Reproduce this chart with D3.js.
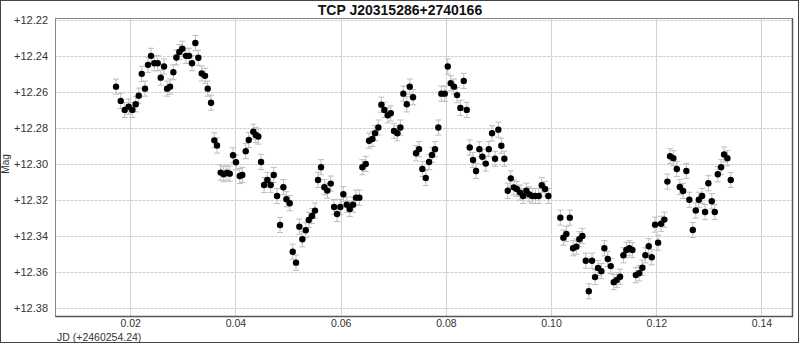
<!DOCTYPE html>
<html>
<head>
<meta charset="utf-8">
<script src="https://cdn.jsdelivr.net/npm/d3@7"></script>
<style>
  body { margin: 0; background: #fff; }
  svg { display: block; font-family: "Liberation Sans", Arial, sans-serif; }
</style>
</head>
<body>
<div id="chart"></div>
<script>
const title = "TCP J20315286+2740166";
const xLabel = "JD (+2460254.24)";
const yLabel = "Mag";
const xTicks = [0.02, 0.04, 0.06, 0.08, 0.10, 0.12, 0.14];
const yTicks = [12.22, 12.24, 12.26, 12.28, 12.30, 12.32, 12.34, 12.36, 12.38];
const magErr = 0.0042;

const jd = [
  0.0173, 0.0182, 0.01895, 0.0197, 0.0204, 0.02105, 0.02162, 0.02219, 0.02281, 0.02338,
  0.02395, 0.02458, 0.02523, 0.0258, 0.02643, 0.027, 0.02757, 0.0282, 0.02877, 0.02934,
  0.02991, 0.03061, 0.03118, 0.03175, 0.03238, 0.03295, 0.03359, 0.03422, 0.03473, 0.03536,
  0.03599, 0.0365, 0.0372, 0.03778, 0.0384, 0.03892, 0.03954, 0.04011, 0.04082, 0.04131,
  0.04196, 0.04253, 0.0434, 0.04386, 0.04435, 0.04487, 0.04544, 0.04606, 0.04671, 0.04728,
  0.04791, 0.04848, 0.04911, 0.04968, 0.05032, 0.05089, 0.05152, 0.05215, 0.05272, 0.05337,
  0.05394, 0.05456, 0.05513, 0.0557, 0.05627, 0.0569, 0.05747, 0.05812, 0.05875, 0.05932,
  0.05994, 0.06051, 0.06116, 0.06173, 0.06236, 0.06293, 0.06356, 0.06413, 0.06477, 0.0654,
  0.06603, 0.06654, 0.06717, 0.06774, 0.06831, 0.06896, 0.06953, 0.07015, 0.07078, 0.07135,
  0.07192, 0.07257, 0.07314, 0.07376, 0.07433, 0.0749, 0.07553, 0.07618, 0.0768, 0.07737,
  0.07794, 0.07857, 0.07914, 0.07979, 0.08036, 0.08093, 0.08156, 0.08213, 0.08276, 0.0834,
  0.08397, 0.08454, 0.08517, 0.08574, 0.08637, 0.08694, 0.08759, 0.08816, 0.08878, 0.08935,
  0.08998, 0.09055, 0.09112, 0.09177, 0.09234, 0.09291, 0.09348, 0.09411, 0.09468, 0.0953,
  0.09587, 0.09644, 0.09701, 0.09766, 0.09823, 0.09886, 0.09949, 0.10177, 0.10234, 0.10291,
  0.10356, 0.10418, 0.10481, 0.10538, 0.10595, 0.1066, 0.10717, 0.10779, 0.10836, 0.10893,
  0.10956, 0.11013, 0.11078, 0.11135, 0.11192, 0.11249, 0.11312, 0.11375, 0.11432, 0.11489,
  0.11546, 0.11611, 0.11673, 0.11736, 0.11793, 0.11857, 0.11914, 0.11977, 0.12034, 0.12091,
  0.12154, 0.12211, 0.12262, 0.12325, 0.1239, 0.12447, 0.1251, 0.12572, 0.12629, 0.12694,
  0.12751, 0.12808, 0.12871, 0.12928, 0.1299, 0.13055, 0.13112, 0.13169, 0.13232, 0.13289,
  0.13352, 0.13416
];

const mag = [
  12.2571, 12.2650, 12.2700, 12.2682, 12.2700, 12.2669, 12.2621, 12.2500, 12.2582, 12.2450,
  12.2400, 12.2441, 12.2441, 12.2521, 12.2459, 12.2582, 12.2571, 12.2491, 12.2409, 12.2379,
  12.2361, 12.2400, 12.2400, 12.2441, 12.2329, 12.2411, 12.2498, 12.2511, 12.2582, 12.2660,
  12.2869, 12.2898, 12.3048, 12.3057, 12.3048, 12.3054, 12.2952, 12.2991, 12.3067, 12.3061,
  12.2929, 12.2867, 12.2821, 12.2839, 12.2848, 12.2989, 12.3117, 12.3089, 12.3117, 12.3061,
  12.3178, 12.3339, 12.3129, 12.3196, 12.3218, 12.3487, 12.3548, 12.3348, 12.3418, 12.3368,
  12.3311, 12.3289, 12.3259, 12.3089, 12.3018, 12.3129, 12.3148, 12.3109, 12.3239, 12.3278,
  12.3239, 12.3168, 12.3226, 12.3250, 12.3226, 12.3187, 12.3187, 12.3018, 12.3000, 12.2871,
  12.2861, 12.2829, 12.2798, 12.2671, 12.2700, 12.2730, 12.2719, 12.2817, 12.2830, 12.2798,
  12.2610, 12.2669, 12.2571, 12.2630, 12.2941, 12.2918, 12.3028, 12.3078, 12.2989, 12.2950,
  12.2918, 12.2798, 12.2610, 12.2610, 12.2459, 12.2552, 12.2571, 12.2618, 12.2689, 12.2539,
  12.2700, 12.2909, 12.2978, 12.3039, 12.2918, 12.2960, 12.2998, 12.2918, 12.2830, 12.2971,
  12.2810, 12.2899, 12.2971, 12.3149, 12.3080, 12.3130, 12.3139, 12.3159, 12.3178, 12.3149,
  12.3169, 12.3178, 12.3178, 12.3178, 12.3118, 12.3139, 12.3178, 12.3298, 12.3409, 12.3389,
  12.3298, 12.3468, 12.3459, 12.3418, 12.3400, 12.3537, 12.3707, 12.3537, 12.3628, 12.3577,
  12.3595, 12.3468, 12.3528, 12.3567, 12.3656, 12.3644, 12.3626, 12.3507, 12.3478, 12.3468,
  12.3478, 12.3617, 12.3607, 12.3576, 12.3507, 12.3457, 12.3518, 12.3337, 12.3437, 12.3332,
  12.3309, 12.3098, 12.2957, 12.2968, 12.3028, 12.3128, 12.3150, 12.3039, 12.3199, 12.3367,
  12.3258, 12.3199, 12.3178, 12.3267, 12.3107, 12.3207, 12.3267, 12.3057, 12.3018, 12.2948,
  12.2968, 12.3089
];

const W = 799, H = 343;
const margin = {top: 18, right: 7, bottom: 27, left: 55};
const width = W - margin.left - margin.right;
const height = H - margin.top - margin.bottom;

const svg = d3.select("#chart").append("svg")
  .attr("width", W)
  .attr("height", H);

// outer frame
svg.append("rect")
  .attr("x", 0.5).attr("y", 0.5)
  .attr("width", W - 1).attr("height", H - 1)
  .attr("fill", "#fff")
  .attr("stroke", "#444");

svg.append("text")
  .attr("x", 400).attr("y", 15)
  .attr("text-anchor", "middle")
  .style("font-size", "14px")
  .style("font-weight", "bold")
  .attr("fill", "#111")
  .text(title);

const g = svg.append("g")
  .attr("transform", "translate(" + margin.left + "," + margin.top + ")");

const x = d3.scaleLinear().domain([0.0057, 0.1458]).range([0, width]);
const y = d3.scaleLinear().domain([12.219, 12.3844]).range([0, height]);

// grid
g.selectAll(".vgrid").data(xTicks).enter().append("line")
  .attr("class", "vgrid")
  .attr("x1", d => Math.round(x(d)) + 0.5).attr("x2", d => Math.round(x(d)) + 0.5)
  .attr("y1", 0).attr("y2", height)
  .attr("stroke", "#d2d2d2");

g.selectAll(".hgrid").data(yTicks).enter().append("line")
  .attr("class", "hgrid")
  .attr("x1", 0).attr("x2", width)
  .attr("y1", d => Math.round(y(d)) + 0.5).attr("y2", d => Math.round(y(d)) + 0.5)
  .attr("stroke", "#cfcfcf")
  .attr("stroke-dasharray", "3,1");

// axes (labels only)
const xAxis = g.append("g")
  .attr("transform", "translate(0," + height + ")")
  .call(d3.axisBottom(x).tickValues(xTicks).tickFormat(d3.format(".2f")).tickSize(0).tickPadding(4));
xAxis.select(".domain").remove();
xAxis.selectAll("text").style("font-size", "10.5px").attr("fill", "#333");

const yAxis = g.append("g")
  .call(d3.axisLeft(y).tickValues(yTicks).tickFormat(d => "+" + d3.format(".2f")(d)).tickSize(0).tickPadding(7));
yAxis.select(".domain").remove();
yAxis.selectAll("text").style("font-size", "11px").attr("fill", "#333");

svg.append("text")
  .attr("x", margin.left + 2).attr("y", H - 2)
  .style("font-size", "10.5px")
  .attr("fill", "#333")
  .text(xLabel);

svg.append("text")
  .attr("transform", "translate(9," + (margin.top + y(12.30)) + ") rotate(-90)")
  .attr("text-anchor", "middle")
  .style("font-size", "10px")
  .attr("fill", "#333")
  .text(yLabel);

// plot frame
g.append("rect")
  .attr("x", 0.5).attr("y", 0.5)
  .attr("width", width).attr("height", height)
  .attr("fill", "none")
  .attr("stroke", "#888");
g.append("path")
  .attr("d", "M" + (width + 0.5) + ",0.5V" + (height + 0.5) + "H0.5")
  .attr("fill", "none")
  .attr("stroke", "#555")
  .attr("stroke-width", 1.5);

const data = jd.map((d, i) => ({jd: d, mag: mag[i]}));

// error bars
const eb = g.selectAll(".err").data(data).enter().append("g")
  .attr("class", "err")
  .attr("stroke", "#bdbdbd")
  .attr("stroke-width", 1);
eb.append("line")
  .attr("x1", d => x(d.jd)).attr("x2", d => x(d.jd))
  .attr("y1", d => y(d.mag - magErr)).attr("y2", d => y(d.mag + magErr));
eb.append("line")
  .attr("x1", d => x(d.jd) - 3).attr("x2", d => x(d.jd) + 3)
  .attr("y1", d => y(d.mag - magErr)).attr("y2", d => y(d.mag - magErr));
eb.append("line")
  .attr("x1", d => x(d.jd) - 3).attr("x2", d => x(d.jd) + 3)
  .attr("y1", d => y(d.mag + magErr)).attr("y2", d => y(d.mag + magErr));

g.selectAll(".pt").data(data).enter().append("circle")
  .attr("class", "pt")
  .attr("cx", d => x(d.jd))
  .attr("cy", d => y(d.mag))
  .attr("r", 3.2)
  .attr("fill", "#000");
</script>
</body>
</html>
